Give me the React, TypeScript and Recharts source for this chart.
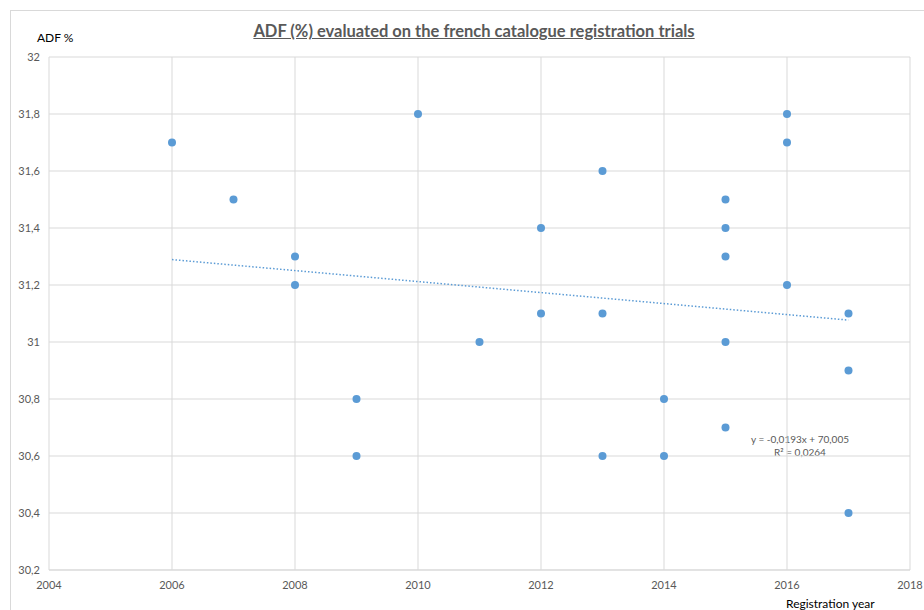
import {
  ScatterChart,
  Scatter,
  XAxis,
  YAxis,
  CartesianGrid,
  ReferenceLine,
} from "recharts";

// registration year / ADF % for each trial
const years = [
  2006, 2007, 2008, 2008, 2009, 2009, 2010, 2011, 2012, 2012, 2013, 2013, 2013,
  2014, 2014, 2015, 2015, 2015, 2015, 2015, 2016, 2016, 2016, 2017, 2017, 2017,
];
const adf = [
  31.7, 31.5, 31.3, 31.2, 30.8, 30.6, 31.8, 31.0, 31.4, 31.1, 31.6, 31.1, 30.6,
  30.8, 30.6, 31.5, 31.4, 31.3, 31.0, 30.7, 31.8, 31.7, 31.2, 31.1, 30.9, 30.4,
];

const xTicks = [2004, 2006, 2008, 2010, 2012, 2014, 2016, 2018];
const yTicks = [30.2, 30.4, 30.6, 30.8, 31, 31.2, 31.4, 31.6, 31.8, 32];

// linear trend shown on the chart: y = -0,0193x + 70,005
const trendSlope = -0.0193;
const trendIntercept = 70.005;
const trendRange = [2006, 2017];

const points = years.map((x, i) => ({ x, y: adf[i] }));

const FONT = "Lato, 'Open Sans', sans-serif";
const GREY = "#595959";
const BLUE = "#5b9bd5";

export default function App() {
  const trend = trendRange.map((x) => ({ x, y: trendSlope * x + trendIntercept }));
  return (
    <div
      style={{
        position: "fixed",
        left: 0,
        top: 0,
        width: 924,
        height: 610,
        background: "#fff",
        fontFamily: FONT,
        overflow: "hidden",
      }}
    >
      <div
        style={{
          position: "absolute",
          left: 10,
          top: 10,
          width: 940,
          height: 640,
          border: "1px solid #d9d9d9",
        }}
      />
      <div
        style={{
          position: "absolute",
          left: 0,
          top: 21,
          width: 948,
          textAlign: "center",
          fontSize: 16.5,
          fontWeight: 700,
          color: GREY,
          textDecoration: "underline",
        }}
      >
        ADF (%) evaluated on the french catalogue registration trials
      </div>
      <div style={{ position: "absolute", left: 37, top: 30, fontSize: 12, color: "#000" }}>
        ADF %
      </div>
      <div
        style={{ position: "absolute", left: 786, top: 596, fontSize: 12, color: "#000" }}
      >
        Registration year
      </div>
      <div
        style={{
          position: "absolute",
          left: 740,
          top: 433,
          width: 120,
          textAlign: "center",
          fontSize: 10,
          lineHeight: "13px",
          color: GREY,
        }}
      >
        y = -0,0193x + 70,005
        <br />
        R² = 0,0264
      </div>
      <ScatterChart
        width={924}
        height={610}
        margin={{ top: 57, right: 14, bottom: 0, left: 9 }}
        style={{ position: "absolute", left: 0, top: 0 }}
      >
        <CartesianGrid stroke="#d9d9d9" strokeWidth={1} />
        <XAxis
          type="number"
          dataKey="x"
          domain={[2004, 2018]}
          ticks={xTicks}
          height={40}
          axisLine={{ stroke: "#d9d9d9" }}
          tickLine={false}
          tick={{ fill: GREY, fontSize: 11, fontFamily: FONT }}
          tickMargin={5}
        />
        <YAxis
          type="number"
          dataKey="y"
          domain={[30.2, 32]}
          ticks={yTicks}
          width={40}
          axisLine={false}
          tickLine={false}
          tick={{ fill: GREY, fontSize: 11, fontFamily: FONT }}
          tickFormatter={(v: number) => String(v).replace(".", ",")}
          tickMargin={3}
        />
        <ReferenceLine
          segment={trend}
          stroke={BLUE}
          strokeWidth={1.5}
          strokeDasharray="1.5 2"
          ifOverflow="visible"
        />
        <Scatter
          data={points}
          fill={BLUE}
          isAnimationActive={false}
          shape={(p: any) => <circle cx={p.cx} cy={p.cy} r={4} fill={BLUE} />}
        />
      </ScatterChart>
    </div>
  );
}
